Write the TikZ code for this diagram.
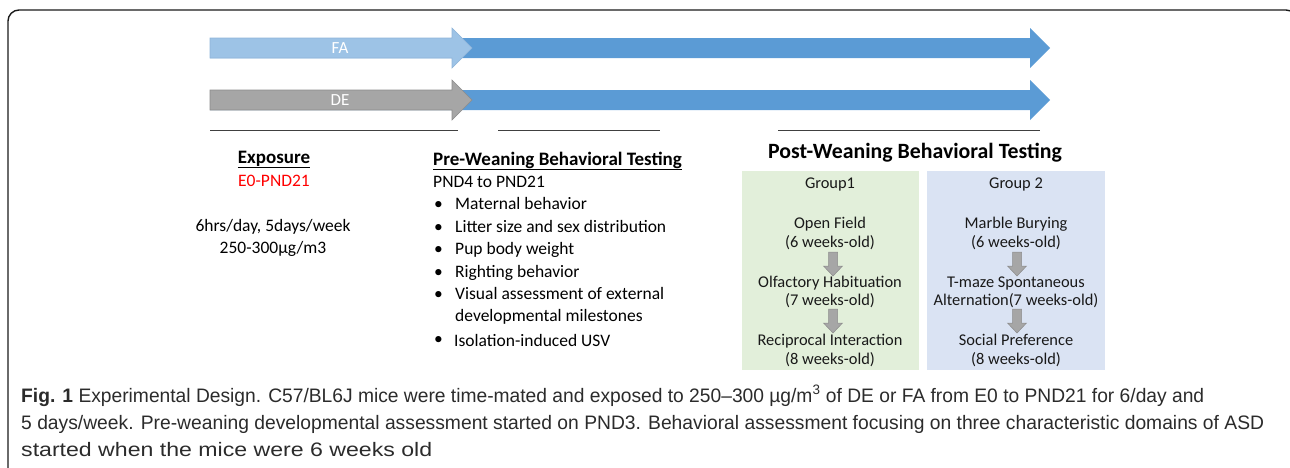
\documentclass[tikz,border=0pt]{standalone}
\usepackage{fontspec}
\usepackage{graphicx}
\setmainfont{Carlito}
\newfontfamily\capfont{Liberation Sans}
\definecolor{lightblue}{HTML}{9DC3E6}
\definecolor{lightblueedge}{HTML}{8FB4D9}
\definecolor{midblue}{HTML}{5B9BD5}
\definecolor{arrowgray}{HTML}{A6A6A6}
\definecolor{arrowgrayedge}{HTML}{8C8C8C}
\definecolor{greenbox}{HTML}{E2EFDA}
\definecolor{bluebox}{HTML}{DAE3F3}
\definecolor{rulegray}{HTML}{404040}
\definecolor{captext}{HTML}{2B2B2B}
\definecolor{framecol}{HTML}{1A1A1A}
\tikzset{
  maintext/.style={font=\fontsize{17.5}{21}\selectfont, text=black, inner sep=0pt},
  headtext/.style={font=\fontsize{19}{23}\selectfont\bfseries, text=black, inner sep=0pt},
  grouptext/.style={font=\fontsize{16.4}{19}\selectfont, text=black!90, inner sep=0pt, anchor=base},
  captionline/.style={font=\capfont\fontsize{19.5}{22}\selectfont, text=captext, inner sep=0pt, anchor=base west},
  arrowlabel/.style={font=\fontsize{17}{20}\selectfont, text=white, inner sep=0pt},
  timeline/.style={draw=rulegray, line width=1pt},
  downarrow/.style={fill=arrowgray, draw=arrowgrayedge, line width=0.5pt},
}
\begin{document}
\begin{tikzpicture}[x=1pt,y=-1pt]
\useasboundingbox (0,0) rectangle (1290,467);
% frame
\draw[framecol, line width=1.4pt, rounded corners=11pt] (8,475) -- (8,10) -- (1297,10) -- (1297,475);
% long blue arrows (behind)
\fill[midblue] (210,38) -- (1030,38) -- (1030,28) -- (1050,48) -- (1030,68) -- (1030,58) -- (210,58) -- cycle;
\fill[midblue] (210,90) -- (1030,90) -- (1030,80) -- (1050,100) -- (1030,120) -- (1030,110) -- (210,110) -- cycle;
% FA and DE arrows
\filldraw[fill=lightblue, draw=lightblueedge, line width=0.6pt] (210,38) -- (452,38) -- (452,28) -- (472,48) -- (452,68) -- (452,58) -- (210,58) -- cycle;
\filldraw[fill=arrowgray, draw=arrowgrayedge, line width=0.6pt] (210,90) -- (452,90) -- (452,80) -- (472,100) -- (452,120) -- (452,110) -- (210,110) -- cycle;
\node[arrowlabel] (fa) at (340,48) {FA};
\node[arrowlabel] (de) at (340,100) {DE};
% timeline rules
\coordinate (r1a) at (210,130); \coordinate (r1b) at (458,130);
\coordinate (r2a) at (498,130); \coordinate (r2b) at (660,130);
\coordinate (r3a) at (778,130); \coordinate (r3b) at (1040,130);
\draw[timeline] (r1a) -- (r1b);
\draw[timeline] (r2a) -- (r2b);
\draw[timeline] (r3a) -- (r3b);
% Exposure column
\node[headtext, anchor=base] (exp) at (274,163) {\underline{Exposure}};
\node[maintext, anchor=base, text=red] (expdate) at (274,186) {E0-PND21};
\node[maintext, anchor=base] (exp1) at (273,231) {6hrs/day, 5days/week};
\node[maintext, anchor=base] (exp2) at (273,253) {250-300µg/m3};
% Pre-weaning column
\node[headtext, anchor=base west] (pre) at (433,165) {\underline{Pre-Weaning Behavioral Testing}};
\node[maintext, anchor=base west] (pnd) at (433,187) {PND4 to PND21};
\foreach \y/\t [count=\i] in {209/Maternal behavior, 232/Litter size and sex distribution, 254/Pup body weight, 277/Righting behavior, 299/Visual assessment of external} {
  \node[maintext, anchor=base west] (b\i) at (434,\y) {•};
  \node[maintext, anchor=base west] (t\i) at (455,\y) {\t};
}
\node[maintext, anchor=base west] (t6) at (455,321.5) {developmental milestones};
\node[maintext, anchor=base west] (b7) at (434,344) {•};
\node[maintext, anchor=base west] (t7) at (454,346.5) {Isolation-induced USV};
% Post-weaning
\node[inner sep=0pt, anchor=base, font=\fontsize{21.8}{26}\selectfont\bfseries] (post) at (915,158) {Post-Weaning Behavioral Testing};
\fill[greenbox] (742,171) rectangle (919,370);
\fill[bluebox] (927,171) rectangle (1105,370);
\node[grouptext] (g1) at (830,188) {Group1};
\node[grouptext] (g1a) at (830,228) {Open Field};
\node[grouptext] (g1b) at (830,247) {(6 weeks-old)};
\node[grouptext] (g1c) at (830,287) {Olfactory Habituation};
\node[grouptext] (g1d) at (830,305) {(7 weeks-old)};
\node[grouptext] (g1e) at (830,345.5) {Reciprocal Interaction};
\node[grouptext] (g1f) at (830,364) {(8 weeks-old)};
\node[grouptext] (g2) at (1016,188) {Group 2};
\node[grouptext] (g2a) at (1016,228) {Marble Burying};
\node[grouptext] (g2b) at (1016,247) {(6 weeks-old)};
\node[grouptext] (g2c) at (1016,287) {T-maze Spontaneous};
\node[grouptext] (g2d) at (1016,305) {Alternation(7 weeks-old)};
\node[grouptext] (g2e) at (1016,345.5) {Social Preference};
\node[grouptext] (g2f) at (1016,364) {(8 weeks-old)};
% gray down arrows
\foreach \cx/\ty in {833/252, 833/309, 1017/252, 1017/309} {
  \filldraw[downarrow] (\cx-4.5,\ty) -- (\cx+4.5,\ty) -- (\cx+4.5,\ty+14) -- (\cx+9.5,\ty+14) -- (\cx,\ty+24) -- (\cx-9.5,\ty+14) -- (\cx-4.5,\ty+14) -- cycle;
}
% caption
\node[captionline] (cap1) at (21,402) {\resizebox{1183pt}{\height}{\textbf{Fig. 1} Experimental Design. C57/BL6J mice were time-mated and exposed to 250–300 µg/m\textsuperscript{3} of DE or FA from E0 to PND21 for 6/day and}};
\node[captionline] (cap2) at (21,429) {\resizebox{1243pt}{\height}{5 days/week. Pre-weaning developmental assessment started on PND3. Behavioral assessment focusing on three characteristic domains of ASD}};
\node[captionline] (cap3) at (21,456) {\resizebox{411pt}{\height}{started when the mice were 6 weeks old}};
\end{tikzpicture}
\end{document}
